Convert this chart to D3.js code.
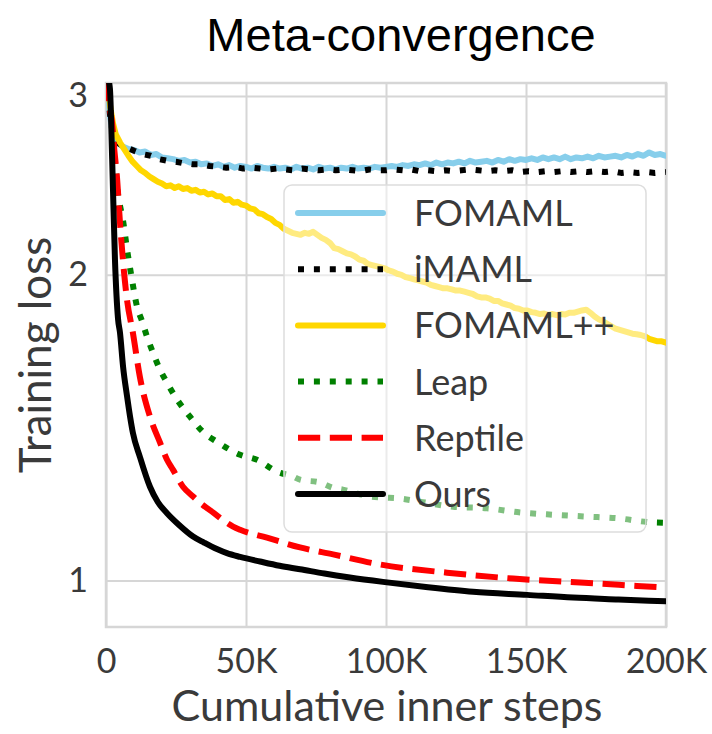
<!DOCTYPE html>
<html>
<head>
<meta charset="utf-8">
<script src="https://cdn.jsdelivr.net/npm/d3@7"></script>
<style>
  body { margin: 0; background: #fff; }
  svg { display: block; }
</style>
</head>
<body>
<svg id="chart" width="712" height="734"></svg>
<script>
// ---- data: cumulative inner steps (thousands) vs. training loss ----
const stepTicks = [0, 50, 100, 150, 200];
const stepTickLabels = ["0", "50K", "100K", "150K", "200K"];
const lossTicks = [1, 2, 3];
const lossTickLabels = ["1", "2", "3"];
const seriesNames = ["FOMAML", "iMAML", "FOMAML++", "Leap", "Reptile", "Ours"];

const fomaml = [[0.5,3.12],[1.4,2.87],[2.5,2.75],[3.9,2.70],[6,2.675],[8,2.66],[10,2.655],[12,2.64],[14,2.645],[16,2.625],[18,2.63],[20,2.61],[22,2.605],[24,2.60],[26,2.59],[28,2.595],[30,2.58],[32,2.585],[34,2.57],[36,2.575],[38,2.56],[40,2.57],[42,2.555],[44,2.565],[46,2.55],[48,2.56],[50,2.555],[52,2.545],[54,2.56],[56,2.55],[58,2.545],[60,2.555],[62,2.545],[64,2.55],[66,2.54],[68,2.555],[70,2.545],[72,2.55],[74,2.54],[76,2.555],[78,2.545],[80,2.55],[82,2.54],[84,2.55],[86,2.545],[88,2.555],[90,2.545],[92,2.55],[94,2.545],[96,2.555],[98,2.55],[100,2.555],[102,2.56],[104,2.555],[106,2.565],[108,2.56],[110,2.57],[112,2.565],[114,2.575],[116,2.565],[118,2.58],[120,2.57],[122,2.58],[124,2.575],[126,2.585],[128,2.575],[130,2.59],[132,2.58],[134,2.585],[136,2.59],[138,2.58],[140,2.595],[142,2.585],[144,2.60],[146,2.59],[148,2.60],[150,2.595],[152,2.605],[154,2.595],[156,2.61],[158,2.60],[160,2.61],[162,2.60],[164,2.615],[166,2.60],[168,2.61],[170,2.605],[172,2.615],[174,2.605],[176,2.62],[178,2.61],[180,2.615],[182,2.62],[184,2.61],[186,2.625],[188,2.615],[190,2.63],[192,2.62],[194,2.64],[196,2.625],[198,2.63],[200,2.62]];

const imaml = [[0.5,3.12],[1.4,2.88],[2.5,2.76],[4,2.70],[6,2.68],[8,2.665],[10,2.65],[13,2.63],[16,2.62],[19,2.60],[22,2.59],[25,2.585],[28,2.575],[31,2.57],[34,2.57],[37,2.56],[40,2.555],[43,2.55],[46,2.555],[49,2.545],[52,2.55],[55,2.545],[58,2.54],[61,2.545],[64,2.54],[67,2.535],[70,2.545],[73,2.54],[76,2.535],[79,2.54],[82,2.535],[85,2.54],[88,2.535],[91,2.53],[94,2.54],[97,2.535],[100,2.535],[103,2.54],[106,2.535],[109,2.54],[112,2.53],[115,2.535],[118,2.53],[121,2.535],[124,2.53],[127,2.535],[130,2.54],[133,2.535],[136,2.53],[139,2.535],[142,2.53],[145,2.535],[148,2.525],[151,2.53],[154,2.525],[157,2.53],[160,2.525],[163,2.53],[166,2.525],[169,2.53],[172,2.525],[175,2.53],[178,2.525],[181,2.53],[184,2.52],[187,2.525],[190,2.52],[193,2.525],[196,2.52],[200,2.525]];

const fomamlPP = [[0.5,3.12],[1.5,2.93],[2.5,2.82],[3.5,2.75],[5,2.70],[6.5,2.66],[8,2.62],[9.5,2.585],[11,2.56],[12.5,2.535],[14,2.52],[15.5,2.50],[17,2.485],[18.5,2.47],[20,2.46],[21.5,2.445],[23,2.45],[24.5,2.435],[26,2.445],[27.5,2.43],[29,2.435],[30.5,2.42],[32,2.425],[33.5,2.41],[35,2.415],[36.5,2.40],[38,2.405],[39.5,2.39],[41,2.39],[42.5,2.37],[44,2.375],[45.5,2.355],[47,2.36],[48.5,2.345],[50,2.34],[51.5,2.325],[53,2.32],[54.5,2.30],[56,2.295],[57.5,2.28],[59,2.27],[60.5,2.25],[62,2.24],[63.5,2.22],[65,2.21],[66.5,2.20],[68,2.195],[69.5,2.19],[71,2.20],[72.5,2.195],[74,2.205],[75.5,2.19],[77,2.175],[78.5,2.165],[80,2.15],[81.5,2.125],[83,2.12],[84.5,2.11],[86,2.10],[87.5,2.095],[89,2.085],[90.5,2.07],[92,2.065],[93.5,2.05],[95,2.045],[96.5,2.04],[98,2.035],[99.5,2.03],[101,2.02],[102.5,2.015],[104,2.005],[105.5,2.0],[107,1.99],[108.5,1.985],[110,1.98],[111.5,1.975],[113,1.97],[114.5,1.965],[116,1.955],[117.5,1.95],[119,1.945],[120.5,1.94],[122,1.94],[123.5,1.935],[125,1.93],[126.5,1.93],[128,1.925],[129.5,1.92],[131,1.915],[132.5,1.905],[134,1.90],[135.5,1.90],[137,1.895],[138.5,1.885],[140,1.885],[141.5,1.875],[143,1.87],[144.5,1.865],[146,1.855],[147.5,1.852],[149,1.845],[150.5,1.845],[152,1.838],[153.5,1.835],[155,1.83],[156.5,1.832],[158,1.826],[159.5,1.83],[161,1.825],[162.5,1.83],[164,1.828],[165.5,1.835],[167,1.835],[168.5,1.84],[170,1.845],[171.5,1.848],[173,1.835],[174.5,1.82],[176,1.808],[177.5,1.80],[179,1.79],[180.5,1.78],[182,1.77],[183.5,1.765],[185,1.76],[186.5,1.755],[188,1.75],[189.5,1.748],[191,1.745],[192.5,1.74],[194,1.73],[195.5,1.725],[197,1.72],[198.5,1.72],[200,1.715]];

const leap = [[0.4,3.12],[1.4,2.97],[2.5,2.70],[3.5,2.52],[4.3,2.40],[5,2.34],[6.1,2.26],[7.5,2.12],[9,2.0],[11.1,1.86],[12.9,1.80],[14.6,1.74],[16.8,1.676],[19.3,1.613],[21.8,1.566],[25.4,1.507],[30,1.45],[34.6,1.401],[39.6,1.37],[47.9,1.33],[53.9,1.315],[61.1,1.28],[66.8,1.266],[69.3,1.257],[76.4,1.249],[81.1,1.234],[84.6,1.229],[94.3,1.21],[98.9,1.207],[103.9,1.205],[112.1,1.196],[123.9,1.182],[136.1,1.178],[147.9,1.167],[159.6,1.161],[171.8,1.156],[183.6,1.151],[193.2,1.142],[200,1.140]];

const reptile = [[0.4,3.12],[1.5,2.90],[2,2.85],[3,2.65],[3.9,2.50],[5,2.25],[6.1,2.06],[7.5,1.89],[9.6,1.754],[12.1,1.587],[15.7,1.45],[19.3,1.367],[21.8,1.315],[23.9,1.286],[27.5,1.237],[31.1,1.21],[33.6,1.193],[38.2,1.167],[45.4,1.13],[47.9,1.122],[57.5,1.102],[69.3,1.078],[81.1,1.061],[97.9,1.037],[121.8,1.018],[145.4,1.0045],[169.3,0.9955],[200,0.984]];

const ours = [[0.4,3.15],[1.4,3.05],[2.2,2.60],[3.2,2.07],[4.3,1.81],[5,1.754],[6.1,1.624],[7.5,1.52],[8.6,1.45],[9.6,1.398],[12.1,1.324],[15.7,1.237],[18.5,1.195],[21.8,1.165],[26,1.135],[31.1,1.105],[35,1.09],[39.6,1.074],[43.2,1.064],[47.9,1.055],[55,1.044],[62,1.034],[69.3,1.026],[78,1.016],[87.1,1.007],[98.9,0.997],[115,0.985],[131.1,0.975],[150.4,0.968],[166.8,0.962],[183,0.958],[200,0.954]];

// ---- styling ----
const seriesData = [fomaml, imaml, fomamlPP, leap, reptile, ours];
const LW = 6;
const styles = [
  { color: "#87ceeb", dash: null, cap: "round", smooth: false },
  { color: "#000000", dash: [LW * 1, LW * 1.65], cap: "butt", smooth: false },
  { color: "#ffd700", dash: null, cap: "round", smooth: false },
  { color: "#008000", dash: [LW * 1, LW * 1.65], cap: "butt", smooth: true },
  { color: "#ff0000", dash: [LW * 3.7, LW * 1.6], cap: "butt", smooth: true },
  { color: "#000000", dash: null, cap: "round", smooth: true }
];

const plot = { left: 106, right: 666, top: 83, bottom: 627 };
const textFont = "Lato, 'Open Sans', sans-serif";
const textWeight = 400;
const textColor = "#3a3a3a";
const gridColor = "#d6d6d6";

const svg = d3.select("#chart");

const x = d3.scaleLinear().domain([0, 200]).range([plot.left, plot.right]);
const y = d3.scaleLog().domain([0.9, 3.09]).range([plot.bottom, plot.top]);

// title
svg.append("text")
  .attr("x", 401).attr("y", 51)
  .attr("text-anchor", "middle")
  .attr("font-family", "'Liberation Sans', Arial, sans-serif")
  .attr("font-size", 47)
  .attr("fill", "#000")
  .text("Meta-convergence");

// grid + tick labels
const xAxis = d3.axisBottom(x)
  .tickValues(stepTicks)
  .tickFormat((d, i) => stepTickLabels[i])
  .tickSizeInner(-(plot.bottom - plot.top))
  .tickSizeOuter(0)
  .tickPadding(22);

const yAxis = d3.axisLeft(y)
  .tickValues(lossTicks)
  .tickFormat((d, i) => lossTickLabels[i])
  .tickSizeInner(-(plot.right - plot.left))
  .tickSizeOuter(0)
  .tickPadding(18);

const gx = svg.append("g")
  .attr("transform", `translate(0,${plot.bottom})`)
  .call(xAxis);
const gy = svg.append("g")
  .attr("transform", `translate(${plot.left},0)`)
  .call(yAxis);

[gx, gy].forEach(g => {
  g.select(".domain").remove();
  g.selectAll(".tick line").attr("stroke", gridColor).attr("stroke-width", 2);
  g.selectAll(".tick text")
    .attr("font-family", textFont)
    .attr("font-weight", textWeight)
    .attr("font-size", 34)
    .attr("fill", textColor);
});

// frame
svg.append("rect")
  .attr("x", plot.left).attr("y", plot.top)
  .attr("width", plot.right - plot.left)
  .attr("height", plot.bottom - plot.top)
  .attr("fill", "none")
  .attr("stroke", gridColor)
  .attr("stroke-width", 2.5);

// axis labels
svg.append("text")
  .attr("x", 387).attr("y", 721)
  .attr("text-anchor", "middle")
  .attr("font-family", textFont)
  .attr("font-weight", textWeight)
  .attr("font-size", 43)
  .attr("fill", textColor)
  .text("Cumulative inner steps");

svg.append("text")
  .attr("transform", "translate(51,355) rotate(-90)")
  .attr("text-anchor", "middle")
  .attr("font-family", textFont)
  .attr("font-weight", textWeight)
  .attr("font-size", 44)
  .attr("fill", textColor)
  .text("Training loss");

// curves
svg.append("clipPath").attr("id", "plot-clip")
  .append("rect")
  .attr("x", plot.left).attr("y", plot.top)
  .attr("width", plot.right - plot.left)
  .attr("height", plot.bottom - plot.top);

const roughLine = d3.line()
  .x(d => x(d[0]))
  .y(d => y(d[1]))
  .curve(d3.curveLinear);
const smoothLine = d3.line()
  .x(d => x(d[0]))
  .y(d => y(d[1]))
  .curve(d3.curveMonotoneX);

const curves = svg.append("g").attr("clip-path", "url(#plot-clip)");
seriesData.forEach((data, i) => {
  const s = styles[i];
  curves.append("path")
    .datum(data)
    .attr("d", s.smooth ? smoothLine : roughLine)
    .attr("fill", "none")
    .attr("stroke", s.color)
    .attr("stroke-width", LW)
    .attr("stroke-linejoin", "round")
    .attr("stroke-linecap", s.cap)
    .attr("stroke-dasharray", s.dash ? s.dash.join(",") : null);
});

// legend
const legend = { x: 284, y: 185, w: 362, h: 347, row0: 213, rowGap: 56.2 };
svg.append("rect")
  .attr("x", legend.x).attr("y", legend.y)
  .attr("width", legend.w).attr("height", legend.h)
  .attr("rx", 8).attr("ry", 8)
  .attr("fill", "#ffffff")
  .attr("fill-opacity", 0.5)
  .attr("stroke", "#dddddd")
  .attr("stroke-width", 1.5);

seriesNames.forEach((name, i) => {
  const s = styles[i];
  const ry = legend.row0 + i * legend.rowGap;
  svg.append("line")
    .attr("x1", 298).attr("x2", 383)
    .attr("y1", ry).attr("y2", ry)
    .attr("stroke", s.color)
    .attr("stroke-width", LW)
    .attr("stroke-linecap", s.cap)
    .attr("stroke-dasharray", s.dash ? s.dash.join(",") : null);
  svg.append("text")
    .attr("x", 414).attr("y", ry)
    .attr("dy", "0.36em")
    .attr("font-family", textFont)
    .attr("font-weight", textWeight)
    .attr("font-size", 36)
    .attr("fill", textColor)
    .text(name);
});
</script>
</body>
</html>
